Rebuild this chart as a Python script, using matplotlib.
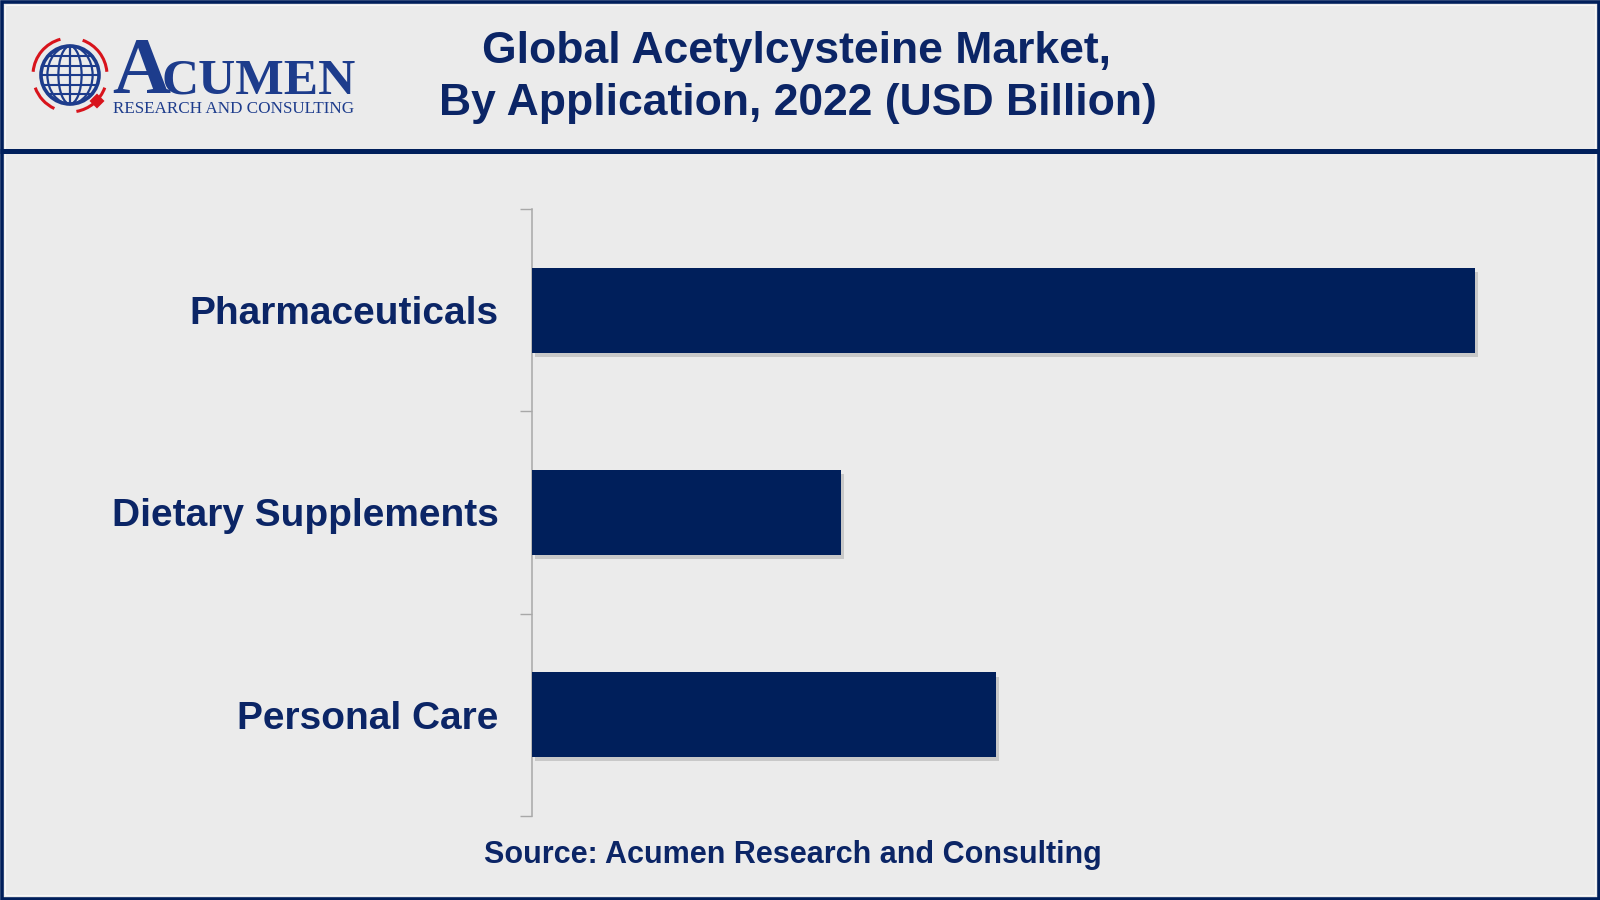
import matplotlib
matplotlib.use("Agg")
import matplotlib.pyplot as plt
import matplotlib.patheffects as pe
from matplotlib.patches import Circle, Ellipse, Arc, Polygon, Rectangle
import numpy as np

plt.rcParams['font.family'] = ['Liberation Sans', 'DejaVu Sans']

categories = ["Pharmaceuticals", "Dietary Supplements", "Personal Care"]
values = [3.05, 1.00, 1.50]
title_lines = ["Global Acetylcysteine Market,", "By Application, 2022 (USD Billion)"]
source_text = "Source: Acumen Research and Consulting"

BG = "#ebebeb"
NAVY = "#001f5b"
TXT = "#0b2566"
LOGO = "#1d3c8c"
RED = "#d8141c"

W, H = 1600, 900
fig = plt.figure(figsize=(16, 9), dpi=100, facecolor=BG)

# overlay axes in pixel coords
ov = fig.add_axes([0, 0, 1, 1], zorder=0)
ov.set_xlim(0, W)
ov.set_ylim(H, 0)
ov.axis("off")
ov.set_facecolor("none")

# frame and header line
ov.add_patch(Rectangle((1.5, 1.5), W - 3, H - 3, fill=False, ec=NAVY, lw=2.6))
ov.add_patch(Rectangle((5, 5), W - 10, H - 10, fill=False, ec="#f8f8f8", lw=0.8))
ov.plot([0, W], [151, 151], color=NAVY, lw=3.6, solid_capstyle="butt")

# logo: globe
cx, cy, r = 70, 75, 29
ov.add_patch(Circle((cx, cy), r, fill=False, ec=LOGO, lw=2.6))
for k in (0.4, 0.78):
    ov.add_patch(Ellipse((cx, cy), 2 * r * k, 2 * r, fill=False, ec=LOGO, lw=1.6))
ov.plot([cx, cx], [cy - r, cy + r], color=LOGO, lw=1.6)
for dy in (-19, -9.5, 0, 9.5, 19):
    hw = np.sqrt(r ** 2 - dy ** 2)
    ov.plot([cx - hw, cx + hw], [cy + dy, cy + dy], color=LOGO, lw=1.5)
# red arcs
R2 = 37
for t1, t2 in ((185, 255), (290, 355), (20, 80), (115, 160)):
    ov.add_patch(Arc((cx, cy), 2 * R2, 2 * R2, theta1=t1, theta2=t2, ec=RED, lw=2.2))
# diamond
dx0, dy0, d = 97, 101, 7.5
ov.add_patch(Polygon([[dx0, dy0 - d], [dx0 + d, dy0], [dx0, dy0 + d], [dx0 - d, dy0]],
                     closed=True, fc=RED, ec="none"))

# logo text
serif = ["Liberation Serif", "DejaVu Serif"]
ov.text(112, 93, "A", family=serif, fontsize=58, fontweight="bold", color=LOGO,
        ha="left", va="baseline")
ov.text(161, 93, "CUMEN", family=serif, fontsize=37, fontweight="bold", color=LOGO,
        ha="left", va="baseline")
ov.text(113, 113, "RESEARCH AND CONSULTING", family=serif, fontsize=12.3, color=LOGO,
        ha="left", va="baseline")

# title
ov.text(797, 52, title_lines[0], fontsize=32, fontweight="bold", color=TXT,
        ha="center", va="center")
ov.text(798, 103, title_lines[1], fontsize=32, fontweight="bold", color=TXT,
        ha="center", va="center")

# source
ov.text(793, 855, source_text, fontsize=22, fontweight="bold", color=TXT,
        ha="center", va="center")

# main chart axes
left, right, top, bottom = 532, 1532, 209, 816
ax = fig.add_axes([left / W, 1 - bottom / H, (right - left) / W, (bottom - top) / H], zorder=1)
ax.set_facecolor("none")
y = np.arange(len(categories))
bars = ax.barh(y, values, height=0.42, color=NAVY, zorder=3)
for b in bars:
    b.set_path_effects([pe.SimplePatchShadow(offset=(2, -3), shadow_rgbFace="#888888", alpha=0.35),
                        pe.Normal()])
ax.set_xlim(0, 3.233)
ax.set_ylim(len(categories) - 0.5, -0.5)

for s in ("top", "right", "bottom"):
    ax.spines[s].set_visible(False)
ax.spines["left"].set_color("#a8a8a8")
ax.spines["left"].set_linewidth(1.1)
ax.set_xticks([])
ax.set_yticks(np.arange(-0.5, len(categories), 1.0))
ax.set_yticklabels([])
ax.tick_params(axis="y", which="major", length=8.5, width=1.0, color="#a8a8a8")
ax.set_yticks(y, minor=True)
ax.set_yticklabels(categories, minor=True, fontsize=28, fontweight="bold", color=TXT)
ax.tick_params(axis="y", which="minor", length=0, pad=24)

fig.savefig("out.png", dpi=100, facecolor=BG)
